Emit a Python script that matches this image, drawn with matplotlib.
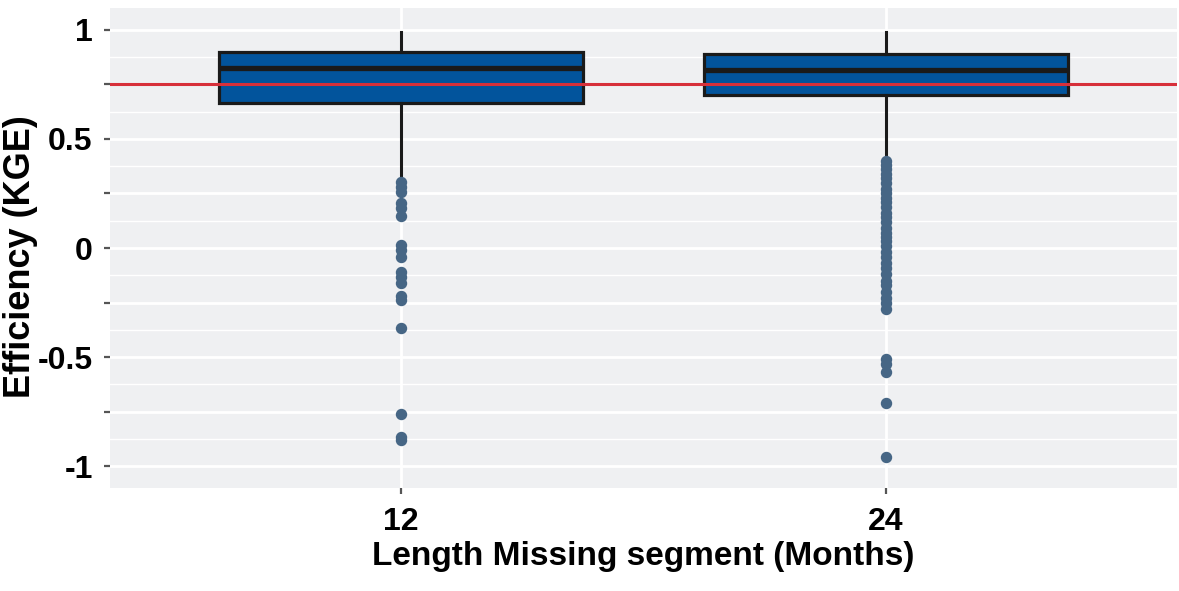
import numpy as np
import matplotlib
matplotlib.use("Agg")
from matplotlib import pyplot as plt
from matplotlib.ticker import MultipleLocator, FixedLocator

# categories and box statistics
groups = ["12", "24"]
q1 = [0.664, 0.700]
med = [0.824, 0.815]
q3 = [0.897, 0.888]
wlo = [0.32, 0.426]
whi = [0.99, 0.99]
out12 = [0.303, 0.28, 0.258, 0.206, 0.183, 0.146, 0.014, -0.01, -0.041,
         -0.11, -0.133, -0.16, -0.22, -0.238, -0.366, -0.76, -0.865, -0.879]
out24 = [0.40, 0.38, 0.36, 0.34, 0.32, 0.30, 0.27, 0.25, 0.23, 0.21, 0.19,
         0.16, 0.14, 0.12, 0.09, 0.07, 0.05, 0.03, 0.01, -0.02, -0.04, -0.07,
         -0.09, -0.12, -0.15, -0.17, -0.20, -0.23, -0.25, -0.28, -0.51, -0.53,
         -0.57, -0.71, -0.96]
threshold = 0.75

plt.rcParams['font.family'] = ['Liberation Sans', 'DejaVu Sans']
plt.rcParams['font.weight'] = 'bold'

fig = plt.figure(figsize=(11.79, 5.91), dpi=100)
ax = fig.add_axes([110 / 1179, 1 - 488 / 591, 1067 / 1179, 480 / 591])
ax.set_facecolor('#eff0f2')
for s in ax.spines.values():
    s.set_visible(False)

stats = []
for i, g in enumerate(groups):
    stats.append(dict(label=g, q1=q1[i], med=med[i], q3=q3[i],
                      whislo=wlo[i], whishi=whi[i],
                      fliers=[out12, out24][i]))

ax.bxp(stats, positions=[1, 2], widths=0.75, patch_artist=True,
       showcaps=False, zorder=3,
       boxprops=dict(facecolor='#02549c', edgecolor='#1a1a1a', linewidth=2.3),
       medianprops=dict(color='#1a1a1a', linewidth=3.8, solid_capstyle='butt'),
       whiskerprops=dict(color='#1a1a1a', linewidth=2.2),
       flierprops=dict(marker='o', markerfacecolor='#466685',
                       markeredgecolor='#466685', markersize=7.2))

ax.axhline(threshold, color='#d7303a', linewidth=2.2, zorder=4)

ax.set_xlim(0.4, 2.6)
ax.set_ylim(-1.1, 1.1)
ax.yaxis.set_major_locator(MultipleLocator(0.25))
ax.yaxis.set_minor_locator(FixedLocator(np.arange(-1.125, 1.13, 0.25)))
ax.set_yticklabels(['' if abs(v * 2 - round(v * 2)) > 1e-6 else f"{v:g}"
                    for v in ax.get_yticks()])
ax.set_xticks([1, 2])
ax.set_xticklabels(groups)
ax.grid(which='major', color='white', linewidth=2.0, zorder=0)
ax.grid(which='minor', axis='y', color='white', linewidth=1.0, zorder=0)
ax.set_axisbelow(True)
ax.tick_params(which='major', length=4.5, width=1.6, color='#555555',
               labelsize=23, pad=8)
ax.tick_params(axis='x', labelsize=23, pad=9)
ax.tick_params(which='minor', length=0)

ax.set_xlabel("Length Missing segment (Months)", fontsize=24, fontweight='bold',
              labelpad=3)
ax.set_ylabel("Efficiency (KGE)", fontsize=26, fontweight='bold', va='center')
ax.yaxis.set_label_coords(-89 / 1067, 0.483)

plt.savefig('out.png', dpi=100)
